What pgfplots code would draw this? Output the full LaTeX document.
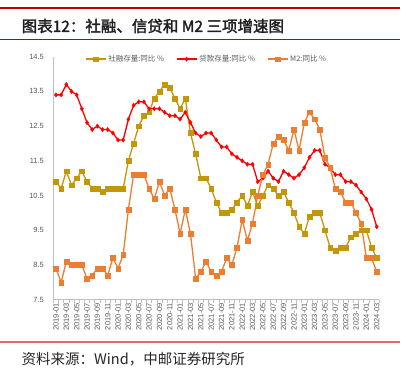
\documentclass[border=0pt]{standalone}
\usepackage{pgfplots}
\pgfplotsset{compat=1.18}
\usepackage{fontspec}
\setmainfont{Liberation Sans}
\newfontfamily\cjk{Noto Sans CJK SC}
\newfontfamily\cjkb[FakeBold=2]{Noto Sans CJK SC}
\definecolor{sfc}{RGB}{196,150,10}
\definecolor{loanc}{RGB}{255,0,0}
\definecolor{mtwo}{RGB}{237,125,49}
\definecolor{darkred}{RGB}{192,0,0}
\definecolor{lightred}{RGB}{222,110,110}
\definecolor{axgray}{RGB}{191,191,191}
\definecolor{txtgray}{RGB}{89,89,89}
\begin{document}
\begin{tikzpicture}
\path[use as bounding box] (0pt,0pt) rectangle (414pt,372pt);
\draw[line width=1.7pt,darkred] (0pt,364pt) -- (400pt,364pt);
\node[anchor=west,inner sep=0pt,text=black!88] at (21.5pt,346pt) {\cjkb\fontsize{15.5}{17}\selectfont 图表12：社融、信贷和 M2 三项增速图};
\draw[line width=1pt,darkred] (0pt,332pt) -- (400pt,332pt);
\draw[line width=1.1pt,lightred] (0pt,30pt) -- (400pt,30pt);
\node[anchor=west,inner sep=0pt,text=black!85] at (21.5pt,12.5pt) {\cjk\fontsize{14.5}{16}\selectfont 资料来源：Wind，中邮证券研究所};
\begin{axis}[
  at={(53.4pt,72.4pt)}, anchor=south west,
  scale only axis, width=325.9pt, height=242.9pt,
  xmin=-0.5, xmax=62.5, ymin=7.5, ymax=14.5,
  axis x line*=bottom, axis y line*=left,
  axis line style={axgray, line width=0.8pt, -},
  xtick={0,2,...,62},
  xticklabels={2019-01,2019-03,2019-05,2019-07,2019-09,2019-11,
    2020-01,2020-03,2020-05,2020-07,2020-09,2020-11,
    2021-01,2021-03,2021-05,2021-07,2021-09,2021-11,
    2022-01,2022-03,2022-05,2022-07,2022-09,2022-11,
    2023-01,2023-03,2023-05,2023-07,2023-09,2023-11,
    2024-01,2024-03},
  minor xtick={-0.5,0.5,...,62.5},
  major tick length=0pt, minor tick length=3pt,
  tick align=outside,
  minor tick style={axgray, line width=0.6pt},
  ytick={7.5,8.5,...,14.5},
  yticklabel style={/pgf/number format/fixed,/pgf/number format/precision=1,/pgf/number format/fixed zerofill, xshift=-6pt},
  /pgf/number format/assume math mode=true,
  ticklabel style={font=\fontsize{7.5}{9}\selectfont, text=txtgray},
  xticklabel style={rotate=90, anchor=east},
  legend columns=3,
  legend style={draw=none, fill=none, at={(0.47,0.99)}, anchor=center,
    font=\cjk\fontsize{7.5}{9}\selectfont, text=txtgray,
    /tikz/every even column/.append style={column sep=10pt},
    inner sep=0pt},
  legend cell align=left,
  legend image code/.code={\draw[mark repeat=2,mark phase=2] plot coordinates {(0pt,0pt) (10pt,0pt) (20pt,0pt)};},
  clip=false,
]
\addplot[sfc, line width=1.3pt, mark=square*, mark size=2.4pt, mark options={fill=sfc,draw=sfc,line width=0.3pt}] coordinates {
(0,10.9)(1,10.7)(2,11.2)(3,10.8)(4,11.0)(5,11.2)(6,10.9)(7,10.7)(8,10.7)(9,10.6)(10,10.7)(11,10.7)
(12,10.7)(13,10.7)(14,11.5)(15,12.0)(16,12.5)(17,12.8)(18,12.9)(19,13.3)(20,13.5)(21,13.7)(22,13.6)(23,13.3)
(24,13.0)(25,13.3)(26,12.3)(27,11.7)(28,11.0)(29,11.0)(30,10.7)(31,10.3)(32,10.0)(33,10.0)(34,10.1)(35,10.3)
(36,10.5)(37,10.2)(38,10.6)(39,10.2)(40,10.5)(41,10.8)(42,10.7)(43,10.5)(44,10.6)(45,10.3)(46,10.0)(47,9.6)
(48,9.4)(49,9.9)(50,10.0)(51,10.0)(52,9.5)(53,9.0)(54,8.9)(55,9.0)(56,9.0)(57,9.3)(58,9.4)(59,9.5)
(60,9.5)(61,9.0)(62,8.7)};
\addlegendentry{社融存量:同比 \%}
\addplot[loanc, line width=1.3pt, mark=diamond*, mark size=2.2pt, mark options={fill=loanc,draw=loanc,line width=0.3pt}] coordinates {
(0,13.4)(1,13.4)(2,13.7)(3,13.5)(4,13.4)(5,13.0)(6,12.6)(7,12.4)(8,12.5)(9,12.4)(10,12.4)(11,12.3)
(12,12.1)(13,12.1)(14,12.7)(15,13.1)(16,13.2)(17,13.2)(18,13.0)(19,13.0)(20,13.0)(21,12.9)(22,12.8)(23,12.8)
(24,12.7)(25,12.9)(26,12.6)(27,12.3)(28,12.2)(29,12.3)(30,12.3)(31,12.1)(32,11.9)(33,11.9)(34,11.7)(35,11.6)
(36,11.5)(37,11.4)(38,11.4)(39,10.9)(40,11.0)(41,11.2)(42,11.0)(43,10.9)(44,11.2)(45,11.1)(46,11.0)(47,11.1)
(48,11.3)(49,11.6)(50,11.8)(51,11.8)(52,11.4)(53,11.3)(54,11.1)(55,11.1)(56,10.9)(57,10.9)(58,10.8)(59,10.6)
(60,10.4)(61,10.1)(62,9.6)};
\addlegendentry{贷款存量:同比 \%}
\addplot[mtwo, line width=1.3pt, mark=square*, mark size=2.4pt, mark options={fill=mtwo,draw=mtwo,line width=0.3pt}] coordinates {
(0,8.4)(1,8.0)(2,8.6)(3,8.5)(4,8.5)(5,8.5)(6,8.1)(7,8.2)(8,8.4)(9,8.4)(10,8.2)(11,8.7)
(12,8.4)(13,8.8)(14,10.1)(15,11.1)(16,11.1)(17,11.1)(18,10.7)(19,10.4)(20,10.9)(21,10.5)(22,10.7)(23,10.1)
(24,9.4)(25,10.1)(26,9.4)(27,8.1)(28,8.3)(29,8.6)(30,8.3)(31,8.2)(32,8.3)(33,8.7)(34,8.5)(35,9.0)
(36,9.8)(37,9.2)(38,9.7)(39,10.5)(40,11.1)(41,11.4)(42,12.0)(43,12.2)(44,12.1)(45,11.8)(46,12.4)(47,11.8)
(48,12.6)(49,12.9)(50,12.7)(51,12.4)(52,11.6)(53,11.3)(54,10.7)(55,10.6)(56,10.3)(57,10.3)(58,10.0)(59,9.7)
(60,8.7)(61,8.7)(62,8.3)};
\addlegendentry{M2:同比 \%}
\end{axis}
\end{tikzpicture}
\end{document}
